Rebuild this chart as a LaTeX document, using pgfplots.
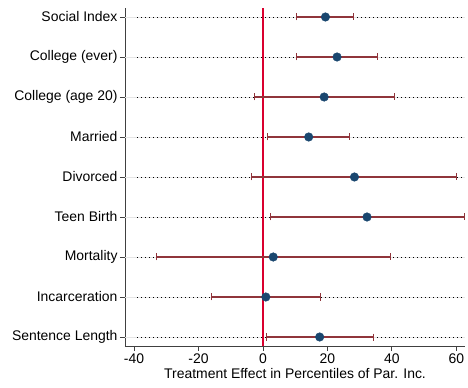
\documentclass[border=0pt]{standalone}
\usepackage{pgfplots}
\pgfplotsset{compat=1.18}
\usepackage{pgfplotstable}
\usepackage{fontspec}
\setmainfont{Liberation Sans}
\definecolor{stnavy}{HTML}{1A476F}
\definecolor{stmaroon}{HTML}{90353B}
\definecolor{zred}{HTML}{D9002E}
\pgfplotstableread{
y x lo hi
9 19.4 10.5 28.0
8 23.0 10.5 35.5
7 19.0 -2.6 40.8
6 14.2 1.5 26.9
5 28.4 -3.5 60.2
4 32.3 2.3 62.5
3 3.2 -32.9 39.7
2 0.9 -15.9 18.0
1 17.6 1.2 34.2
}\ci
\pgfplotstablecreatecol[create col/expr={\thisrow{hi}-\thisrow{x}}]{ep}{\ci}
\pgfplotstablecreatecol[create col/expr={\thisrow{x}-\thisrow{lo}}]{em}{\ci}
\begin{document}
\begin{tikzpicture}
\useasboundingbox (-125bp,-42bp) rectangle (343bp,346bp);
\begin{axis}[
  at={(0,0)}, anchor=south west,
  scale only axis, width=340bp, height=338bp,
  xmin=-42.8, xmax=62.7, ymin=0.775, ymax=9.225,
  axis lines=left, axis line style={-, black!75, line width=0.8bp},
  xtick={-40,-20,0,20,40,60},
  ytick={1,...,9},
  yticklabels={Sentence Length,Incarceration,Mortality,Teen Birth,Divorced,Married,College (age 20),College (ever),Social Index},
  tick align=outside, major tick length=5bp,
  tick style={black!75, line width=0.8bp},
  ticklabel style={font=\fontsize{14}{16}\selectfont},
  xlabel={Treatment Effect in Percentiles of Par. Inc.},
  xlabel style={font=\fontsize{14}{16}\selectfont, yshift=2bp},
  yticklabel style={xshift=1bp},
  xticklabel style={yshift=1bp},
  /pgf/number format/assume math mode=true,
  clip=false,
]
\pgfplotsinvokeforeach{1,...,9}{
  \draw[black!10, line width=0.6bp] (axis cs:-42.8,#1) -- (axis cs:62.7,#1);
  \draw[black, line width=0.7bp, dash pattern=on 0.7bp off 3.3bp] (axis cs:-39,#1) -- (axis cs:62.7,#1);
}
\addplot[zred, line width=1.2bp] coordinates {(0,0.775) (0,9.225)};
\addplot[draw=none, mark=none, error bars/.cd, x dir=both, x explicit,
  error bar style={stmaroon, line width=1.3bp},
  error mark options={stmaroon, line width=0.9bp, mark size=3.5bp, rotate=90}]
  table[x=x, y=y, x error plus=ep, x error minus=em] {\ci};
\addplot[only marks, mark=*, mark size=4.3bp, mark options={fill=stnavy, draw=stnavy}] table[x=x,y=y] {\ci};
\end{axis}
\end{tikzpicture}
\end{document}
